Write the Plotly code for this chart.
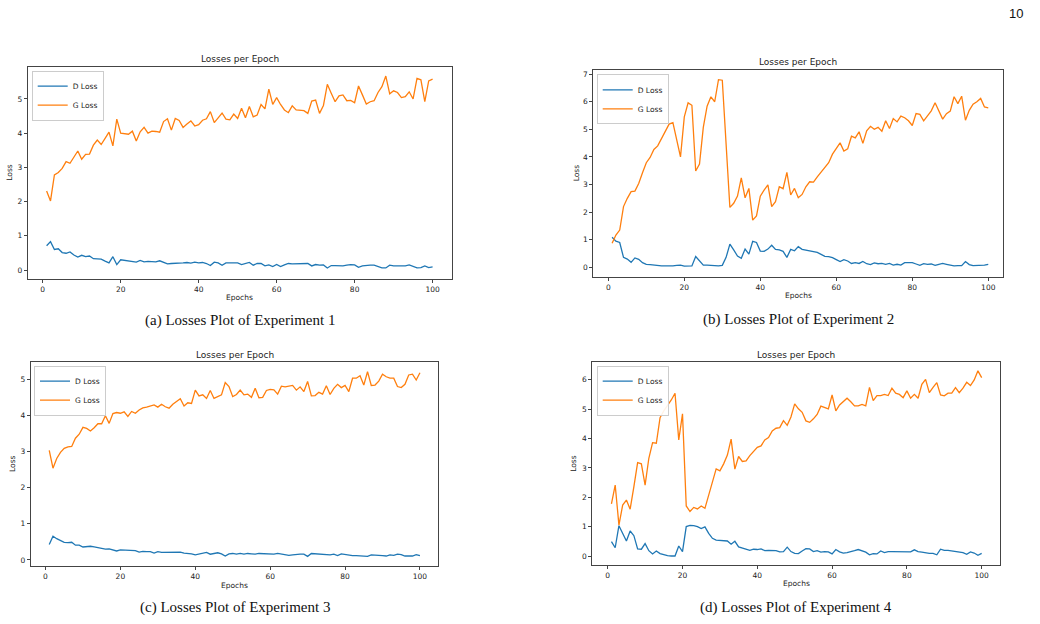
import plotly.graph_objects as go

W, H = 1040, 624
epochs = list(range(1, 101))

exp1_g = [2.31, 2.02, 2.78, 2.85, 2.97, 3.17, 3.12, 3.29, 3.48, 3.24, 3.38, 3.39, 3.65, 3.80, 3.67, 3.85, 4.03, 3.63, 4.41, 4.00,
          3.99, 3.97, 4.06, 3.77, 4.04, 4.17, 4.00, 4.06, 4.05, 4.03, 4.34, 4.42, 4.09, 4.43, 4.37, 4.17, 4.27, 4.36, 4.21, 4.25,
          4.38, 4.42, 4.63, 4.31, 4.45, 4.59, 4.41, 4.39, 4.56, 4.43, 4.73, 4.45, 4.78, 4.48, 4.53, 4.84, 4.71, 5.29, 4.84, 5.04,
          4.84, 4.68, 4.60, 4.80, 4.68, 4.67, 4.66, 4.58, 4.94, 4.97, 4.58, 4.81, 5.43, 5.17, 4.92, 5.09, 5.12, 4.95, 4.96, 4.89,
          5.38, 5.12, 4.85, 4.92, 4.95, 5.19, 5.36, 5.67, 5.15, 5.24, 5.19, 5.04, 5.07, 5.21, 5.00, 5.60, 5.56, 4.92, 5.53, 5.58]
exp1_d = [0.71, 0.83, 0.60, 0.62, 0.51, 0.49, 0.53, 0.44, 0.38, 0.43, 0.39, 0.41, 0.33, 0.32, 0.32, 0.26, 0.21, 0.39, 0.16, 0.30,
          0.28, 0.27, 0.25, 0.23, 0.28, 0.24, 0.25, 0.25, 0.24, 0.27, 0.22, 0.18, 0.19, 0.19, 0.19, 0.21, 0.22, 0.20, 0.23, 0.21,
          0.22, 0.19, 0.13, 0.23, 0.21, 0.14, 0.21, 0.21, 0.20, 0.21, 0.16, 0.19, 0.22, 0.14, 0.19, 0.19, 0.12, 0.15, 0.10, 0.16,
          0.10, 0.15, 0.19, 0.18, 0.18, 0.18, 0.18, 0.19, 0.12, 0.16, 0.14, 0.15, 0.06, 0.13, 0.13, 0.12, 0.12, 0.14, 0.16, 0.15,
          0.08, 0.12, 0.14, 0.14, 0.14, 0.10, 0.06, 0.06, 0.14, 0.12, 0.12, 0.13, 0.12, 0.15, 0.10, 0.06, 0.07, 0.12, 0.07, 0.09]

exp2_g = [0.87, 1.17, 1.35, 2.20, 2.50, 2.74, 2.76, 3.04, 3.43, 3.79, 3.98, 4.27, 4.40, 4.67, 4.93, 5.19, 5.24, 4.67, 4.00, 5.45,
          5.96, 5.87, 3.49, 3.74, 5.07, 5.84, 6.18, 6.00, 6.80, 6.78, 4.37, 2.17, 2.32, 2.58, 3.24, 2.52, 2.86, 1.71, 1.86, 2.58,
          2.80, 2.99, 2.20, 2.38, 2.92, 2.85, 3.44, 2.62, 2.86, 2.52, 2.64, 2.92, 3.10, 3.09, 3.28, 3.46, 3.64, 3.79, 4.10, 4.31,
          4.51, 4.21, 4.29, 4.75, 4.69, 4.91, 4.49, 4.95, 5.11, 5.00, 5.07, 4.93, 5.31, 5.03, 5.39, 5.27, 5.48, 5.42, 5.31, 5.14,
          5.57, 5.54, 5.31, 5.49, 5.67, 5.96, 5.66, 5.37, 5.57, 5.66, 6.18, 5.93, 6.20, 5.33, 5.69, 5.91, 6.00, 6.12, 5.81, 5.78]
exp2_d = [1.09, 0.95, 0.90, 0.36, 0.30, 0.18, 0.34, 0.29, 0.17, 0.11, 0.10, 0.08, 0.07, 0.05, 0.05, 0.04, 0.05, 0.07, 0.08, 0.04,
          0.05, 0.05, 0.39, 0.23, 0.08, 0.08, 0.06, 0.06, 0.05, 0.07, 0.36, 0.84, 0.63, 0.41, 0.33, 0.66, 0.48, 0.94, 0.90, 0.59,
          0.58, 0.66, 0.80, 0.65, 0.63, 0.58, 0.36, 0.65, 0.60, 0.75, 0.65, 0.62, 0.58, 0.57, 0.54, 0.47, 0.40, 0.39, 0.35, 0.28,
          0.21, 0.28, 0.23, 0.14, 0.17, 0.14, 0.21, 0.13, 0.10, 0.16, 0.13, 0.14, 0.11, 0.14, 0.08, 0.11, 0.08, 0.17, 0.18, 0.17,
          0.12, 0.07, 0.13, 0.11, 0.12, 0.07, 0.11, 0.14, 0.11, 0.08, 0.05, 0.06, 0.06, 0.21, 0.10, 0.06, 0.06, 0.07, 0.08, 0.11]

exp3_g = [3.03, 2.54, 2.81, 2.98, 3.09, 3.13, 3.14, 3.37, 3.48, 3.67, 3.64, 3.57, 3.66, 3.77, 3.77, 3.99, 3.78, 4.05, 4.08, 4.06,
          4.10, 3.97, 4.11, 4.06, 4.15, 4.21, 4.23, 4.26, 4.29, 4.23, 4.31, 4.24, 4.20, 4.31, 4.38, 4.46, 4.26, 4.35, 4.33, 4.70,
          4.54, 4.57, 4.47, 4.69, 4.47, 4.52, 4.57, 4.91, 4.80, 4.52, 4.58, 4.70, 4.57, 4.59, 4.50, 4.75, 4.49, 4.50, 4.69, 4.72,
          4.71, 4.59, 4.81, 4.79, 4.80, 4.83, 4.70, 4.79, 4.66, 4.94, 4.54, 4.55, 4.64, 4.59, 4.82, 4.58, 4.75, 4.86, 4.77, 4.83,
          4.66, 5.03, 5.03, 5.10, 4.84, 5.21, 4.83, 4.84, 4.95, 5.14, 5.07, 5.03, 5.03, 4.80, 4.77, 4.86, 5.12, 5.14, 4.98, 5.18]
exp3_d = [0.43, 0.66, 0.59, 0.53, 0.49, 0.48, 0.49, 0.41, 0.41, 0.36, 0.38, 0.38, 0.36, 0.34, 0.31, 0.30, 0.31, 0.27, 0.25, 0.28,
          0.27, 0.28, 0.26, 0.26, 0.22, 0.24, 0.23, 0.23, 0.19, 0.23, 0.21, 0.21, 0.21, 0.20, 0.20, 0.22, 0.19, 0.19, 0.17, 0.14,
          0.17, 0.18, 0.21, 0.16, 0.17, 0.20, 0.17, 0.11, 0.17, 0.18, 0.16, 0.18, 0.16, 0.18, 0.17, 0.16, 0.18, 0.17, 0.17, 0.16,
          0.16, 0.18, 0.16, 0.14, 0.13, 0.14, 0.16, 0.16, 0.16, 0.10, 0.18, 0.17, 0.16, 0.16, 0.15, 0.14, 0.16, 0.12, 0.17, 0.15,
          0.14, 0.12, 0.12, 0.12, 0.12, 0.10, 0.14, 0.14, 0.13, 0.12, 0.11, 0.14, 0.13, 0.16, 0.15, 0.11, 0.11, 0.11, 0.15, 0.12]

exp4_g = [1.78, 2.42, 1.06, 1.74, 1.91, 1.60, 2.37, 3.18, 3.14, 2.42, 3.33, 3.86, 3.84, 4.71, 4.94, 5.11, 5.31, 5.54, 3.95, 4.84,
          1.71, 1.52, 1.66, 1.61, 1.71, 1.63, 2.08, 2.54, 2.97, 2.90, 3.14, 3.44, 3.98, 2.96, 3.39, 3.22, 3.24, 3.42, 3.58, 3.70,
          3.75, 3.95, 4.03, 4.26, 4.35, 4.37, 4.61, 4.45, 4.73, 5.18, 5.01, 4.89, 4.60, 4.55, 4.67, 4.82, 5.10, 5.06, 5.01, 5.48,
          4.94, 5.14, 5.25, 5.37, 5.25, 5.11, 5.11, 5.16, 5.11, 5.74, 5.29, 5.46, 5.46, 5.50, 5.46, 5.71, 5.54, 5.50, 5.39, 5.62,
          5.37, 5.50, 5.37, 5.84, 6.01, 5.56, 5.74, 5.90, 5.48, 5.45, 5.54, 5.54, 5.73, 5.56, 5.71, 5.91, 5.80, 5.99, 6.30, 6.07]
exp4_d = [0.50, 0.29, 1.04, 0.78, 0.52, 0.86, 0.70, 0.25, 0.24, 0.43, 0.19, 0.08, 0.18, 0.09, 0.05, 0.02, 0.01, 0.01, 0.35, 0.16,
          1.01, 1.05, 1.04, 1.01, 0.94, 1.00, 0.78, 0.61, 0.55, 0.54, 0.55, 0.52, 0.41, 0.51, 0.32, 0.28, 0.22, 0.20, 0.24, 0.23,
          0.25, 0.19, 0.20, 0.20, 0.19, 0.15, 0.16, 0.31, 0.16, 0.10, 0.09, 0.18, 0.26, 0.25, 0.16, 0.19, 0.14, 0.16, 0.15, 0.08,
          0.23, 0.15, 0.11, 0.125, 0.15, 0.19, 0.23, 0.19, 0.14, 0.05, 0.09, 0.08, 0.18, 0.125, 0.16, 0.16, 0.16, 0.16, 0.16, 0.17,
          0.15, 0.22, 0.16, 0.14, 0.11, 0.10, 0.10, 0.05, 0.24, 0.20, 0.20, 0.18, 0.16, 0.16, 0.125, 0.07, 0.15, 0.11, 0.035, 0.10]

series_names = ["D Loss", "G Loss"]
plot_title = "Losses per Epoch"
x_label = "Epochs"
y_label = "Loss"
captions = ["(a) Losses Plot of Experiment 1", "(b) Losses Plot of Experiment 2",
            "(c) Losses Plot of Experiment 3", "(d) Losses Plot of Experiment 4"]
page_number = "10"
x_ticks = [0, 20, 40, 60, 80, 100]
y_ticks = [[0, 1, 2, 3, 4, 5], [0, 1, 2, 3, 4, 5, 6, 7], [0, 1, 2, 3, 4, 5], [0, 1, 2, 3, 4, 5, 6]]
data = [(exp1_d, exp1_g), (exp2_d, exp2_g), (exp3_d, exp3_g), (exp4_d, exp4_g)]

# layout (pixel boxes of each axes frame: left, right, top, bottom)
frames = [(27.7, 451.7, 66.7, 278.7), (593.3, 1002.7, 70.0, 276.7),
          (30.7, 438.3, 362.3, 565.7), (592.3, 1000.0, 362.3, 565.3)]
xranges = [[-3.85, 104.9], [-3.95, 103.8], [-3.95, 104.9], [-4.12, 104.9]]
yranges = [[-0.254, 5.944], [-0.34, 7.15], [-0.158, 5.47], [-0.306, 6.59]]
legend_pos = [(31.7, 70.7), (596.7, 74.3), (34.0, 365.7), (596.7, 365.7)]
ylabel_x = [10, 576, 12, 574]
caption_y = [320, 319, 607, 607]
epochs_y = [297, 295, 585, 583]
title_y = [59, 62, 355, 355]

colors = ["#1f77b4", "#ff7f0e"]
TXT = "#222222"
FONT = "DejaVu Sans"

def px(x):
    return x / W

def py(y):
    return 1 - y / H

fig = go.Figure()
annotations = []
layout = dict(width=W, height=H, margin=dict(l=0, r=0, t=0, b=0),
              paper_bgcolor="white", plot_bgcolor="white", showlegend=True,
              font=dict(family=FONT, color=TXT, size=8))

for i in range(4):
    sfx = "" if i == 0 else str(i + 1)
    l, r, t, b = frames[i]
    for j in range(2):
        fig.add_trace(go.Scatter(x=epochs, y=data[i][j], mode="lines", name=series_names[j],
                                 line=dict(color=colors[j], width=1.3),
                                 xaxis="x" + sfx, yaxis="y" + sfx,
                                 legend="legend" + sfx))
    axcommon = dict(showgrid=False, zeroline=False, showline=True, mirror=True,
                    linecolor="#444444", linewidth=1, ticks="outside", ticklen=3,
                    tickcolor="#444444", tickfont=dict(size=7.5, color=TXT, family=FONT))
    layout["xaxis" + sfx] = dict(domain=[px(l), px(r)], range=xranges[i], anchor="y" + sfx,
                                 tickvals=x_ticks, **axcommon)
    layout["yaxis" + sfx] = dict(domain=[py(b), py(t)], range=yranges[i], anchor="x" + sfx,
                                 tickvals=y_ticks[i], **axcommon)
    lx, ly = legend_pos[i]
    layout["legend" + sfx] = dict(x=px(lx), y=py(ly), xanchor="left", yanchor="top",
                                  bgcolor="rgba(255,255,255,0.9)", bordercolor="#cccccc", borderwidth=1,
                                  font=dict(size=7.5, color=TXT, family=FONT),
                                  itemwidth=30, tracegroupgap=0)
    cx = (l + r) / 2
    annotations.append(dict(text=plot_title, x=px(cx), y=py(title_y[i]), xref="paper", yref="paper",
                            showarrow=False, xanchor="center", yanchor="middle",
                            font=dict(size=9, color=TXT, family=FONT)))
    annotations.append(dict(text=x_label, x=px(cx), y=py(epochs_y[i]), xref="paper", yref="paper",
                            showarrow=False, xanchor="center", yanchor="middle",
                            font=dict(size=7.5, color=TXT, family=FONT)))
    annotations.append(dict(text=y_label, x=px(ylabel_x[i]), y=py((t + b) / 2), xref="paper", yref="paper",
                            showarrow=False, xanchor="center", yanchor="middle", textangle=-90,
                            font=dict(size=7.5, color=TXT, family=FONT)))
    annotations.append(dict(text=captions[i], x=px(cx), y=py(caption_y[i]), xref="paper", yref="paper",
                            showarrow=False, xanchor="center", yanchor="middle",
                            font=dict(size=15, color="#111111", family="Liberation Serif")))

annotations.append(dict(text=page_number, x=px(1025), y=py(13), xref="paper", yref="paper",
                        showarrow=False, xanchor="right", yanchor="middle",
                        font=dict(size=13, color="#111111", family="Liberation Sans")))
layout["annotations"] = annotations
fig.update_layout(**layout)
fig.write_html("out.html")
